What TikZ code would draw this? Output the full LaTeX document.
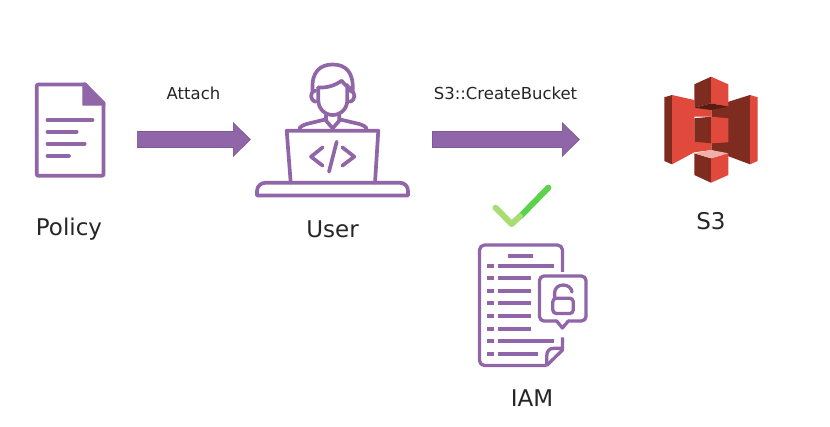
\documentclass[tikz,border=0pt]{standalone}
\usepackage{fontspec}
\setmainfont{DejaVu Sans}
\usetikzlibrary{arrows.meta}
\definecolor{purp}{HTML}{9066A8}
\definecolor{purpdk}{HTML}{7D5A96}
\definecolor{s3light}{HTML}{E0493B}
\definecolor{s3dark}{HTML}{7E2C20}
\definecolor{s3deep}{HTML}{5A1C12}
\definecolor{s3pale}{HTML}{EFB0A8}
\definecolor{chklight}{HTML}{A9DC72}
\definecolor{chkdark}{HTML}{5CD24A}
\tikzset{
  icon/.style={draw=purp,line width=3.7pt,line cap=round,line join=round},
  thinicon/.style={icon,line width=3.3pt},
  rowline/.style={draw=purp,line width=3.8pt,line cap=butt},
  biglabel/.style={font=\fontsize{23}{25}\selectfont,text=black!85,inner sep=0pt},
  smalllabel/.style={font=\fontsize{16.5}{19}\selectfont,text=black!85,inner sep=0pt},
  blockedge/.style={line width=17pt,draw=purpdk,-{Triangle[length=18pt,width=34pt]}},
  blockfill/.style={line width=15.4pt,draw=purp,-{Triangle[length=16pt,width=30.5pt]}},
}
\begin{document}
\begin{tikzpicture}[x=1pt,y=-1pt]
\useasboundingbox (0,0) rectangle (830,426);
\fill[white] (0,0) rectangle (830,426);
% Policy icon
\draw[icon,rounded corners=1pt] (85.5,84.5) -- (36.8,84.5) -- (36.8,175.7) -- (103.5,175.7) -- (103.5,103);
\fill[purp,draw=purp,line width=1pt,line join=round] (82.8,83.2) -- (85.8,83.2) -- (104.8,102.5) -- (104.8,105.2) -- (82.8,105.2) -- cycle;
\draw[icon] (47.5,120) -- (92.5,120) (47.5,131.7) -- (76.7,131.7) (47.5,143.7) -- (84.7,143.7) (47.5,155.7) -- (69,155.7);
% User icon
\draw[icon] (312.6,91) .. controls (311,72) and (320,64.5) .. (332.7,64.5) .. controls (345.5,64.5) and (354,72) .. (352.6,91);
\draw[icon] (318.3,87.5) .. controls (327,88) and (335,85.5) .. (341.7,80.7) .. controls (344,84) and (347,86.5) .. (350,88);
\draw[icon] (318.3,87.5) -- (318.3,100) .. controls (318.3,109) and (325,115) .. (332.8,115) .. controls (340.5,115) and (347.3,109) .. (347.3,100) -- (347.3,85);
\draw[icon] (315.5,90.5) .. controls (309.5,91) and (309.5,101) .. (316,101.7);
\draw[icon] (350,90.5) .. controls (356,91) and (356,101) .. (349.5,101.7);
\draw[icon] (326,115) -- (326,120.7) -- (332.7,128.3) -- (339.3,120.7) -- (339.3,115);
\draw[icon] (299.3,128.3) .. controls (302,125.5) and (304,124.8) .. (306.7,124) -- (326,119.3);
\draw[icon] (366.7,128.3) .. controls (364,125.5) and (362,124.8) .. (359.3,124) -- (339.3,119.3);
\draw[icon] (290.7,182.7) -- (286.7,130.7) -- (378.3,130.7) -- (375,182.7);
\draw[icon] (257,195.5) -- (257,191) .. controls (257,186) and (261,182.7) .. (266,182.7) -- (399.5,182.7) .. controls (404.5,182.7) and (408,186) .. (408,191) -- (408,195.5) -- cycle;
\draw[icon] (322.7,147.3) -- (311,156.7) -- (322.7,165.7);
\draw[icon] (342.3,147.3) -- (354.3,156.7) -- (342.3,165.7);
\draw[icon] (336.7,141.7) -- (329,171.7);
% S3 icon
\fill[s3dark] (664.3,97.3) -- (672,95) -- (672,164.3) -- (664.3,161) -- cycle;
\fill[s3light] (672,95) -- (694.3,100) -- (694.3,107.7) -- (711.7,107.7) -- (711.7,116.7) -- (694.3,116.7) -- (694.3,141.7) -- (711.7,142.3) -- (711.7,150) -- (694.3,152.3) -- (672,164.3) -- cycle;
\fill[s3dark] (711.7,107) -- (750,95) -- (750,164.3) -- (711.7,150) -- cycle;
\fill[s3light] (750,95) -- (757.7,97.3) -- (757.7,161) -- (750,164.3) -- cycle;
\fill[s3dark] (694.3,84.3) -- (711,76.7) -- (711,103.3) -- (694.3,107.7) -- cycle;
\fill[s3light] (711,76.7) -- (728.3,84.3) -- (728.3,106.7) -- (711,103.3) -- cycle;
\fill[s3deep] (694.3,107.7) -- (711,103.3) -- (728.3,106.7) -- (711,110) -- cycle;
\fill[s3dark] (694.3,118.3) -- (711,116.7) -- (711,143.3) -- (694.3,141.7) -- cycle;
\fill[s3light] (711,116.7) -- (728.3,118.3) -- (728.3,142.3) -- (711,143.3) -- cycle;
\fill[s3dark] (694.3,153.3) -- (711,158.3) -- (711,182.7) -- (694.3,175) -- cycle;
\fill[s3light] (711,158.3) -- (728.3,153.3) -- (728.3,175) -- (711,182.7) -- cycle;
\fill[s3pale] (694.3,153.3) -- (711,150) -- (728.3,153.3) -- (711,158.3) -- cycle;
% check mark
\draw[chkdark,line width=6pt,line cap=round] (520,216.7) -- (548.3,187.7);
\draw[chklight,line width=6pt,line cap=round,line join=round] (495.5,207.7) -- (511.7,224) -- (520,216.2);
% IAM icon
\draw[thinicon,rounded corners=5pt,line cap=butt] (562.5,274) -- (562.5,245) -- (479.5,245) -- (479.5,365.5) -- (546.7,365.5);
\draw[thinicon,line cap=butt] (546.7,365.5) -- (562.5,350) -- (562.5,337.3);
\draw[thinicon,line cap=butt] (546.7,365.5) -- (546.7,357) .. controls (546.7,351) and (549,348.3) .. (554,348.3) -- (562.5,348.3);
\draw[rowline,line width=4pt] (508.3,255.7) -- (533.3,255.7);
\foreach \yy/\xe in {266/554.3,278.3/531,291/531,303.3/531,316/531,328.7/531,341/554.3,353.7/537.7}{
  \draw[rowline] (487.3,\yy) -- (494,\yy) (498.3,\yy) -- (\xe,\yy);
}
% bubble
\fill[white] (537.5,272) rectangle (590,324);
\draw[thinicon,rounded corners=4.5pt] (556.7,321) -- (539.5,321) -- (539.5,276) -- (586,276) -- (586,321) -- (568.3,321);
\draw[thinicon] (556.7,321) -- (562.4,328) -- (568.3,321);
% lock
\draw[thinicon,rounded corners=3.5pt] (552.8,298.2) rectangle (573.3,313.5);
\draw[thinicon] (554.6,297) -- (554.6,293) .. controls (554.6,288) and (558.5,285) .. (563,285) .. controls (568,285) and (571.5,288) .. (572,292);
% labels
\node[biglabel] (policy) at (69,229) {Policy};
\node[biglabel] (user) at (332.5,229) {User};
\node[biglabel] (s3) at (711,221) {S3};
\node[biglabel] (iam) at (532,398) {IAM};
\node[smalllabel] (attach) at (193.5,93) {Attach};
\node[smalllabel] (create) at (505.5,93) {S3::CreateBucket};
% connectors
\coordinate (a1) at (136.5,139.5);
\coordinate (a2) at (251,139.5);
\coordinate (b1) at (432,139.5);
\coordinate (b2) at (580,139.5);
\draw[blockedge] (a1) -- (a2);
\draw[blockfill] ([xshift=.8pt]a1) -- ([xshift=-1.3pt]a2);
\draw[blockedge] (b1) -- (b2);
\draw[blockfill] ([xshift=.8pt]b1) -- ([xshift=-1.3pt]b2);
\end{tikzpicture}
\end{document}
